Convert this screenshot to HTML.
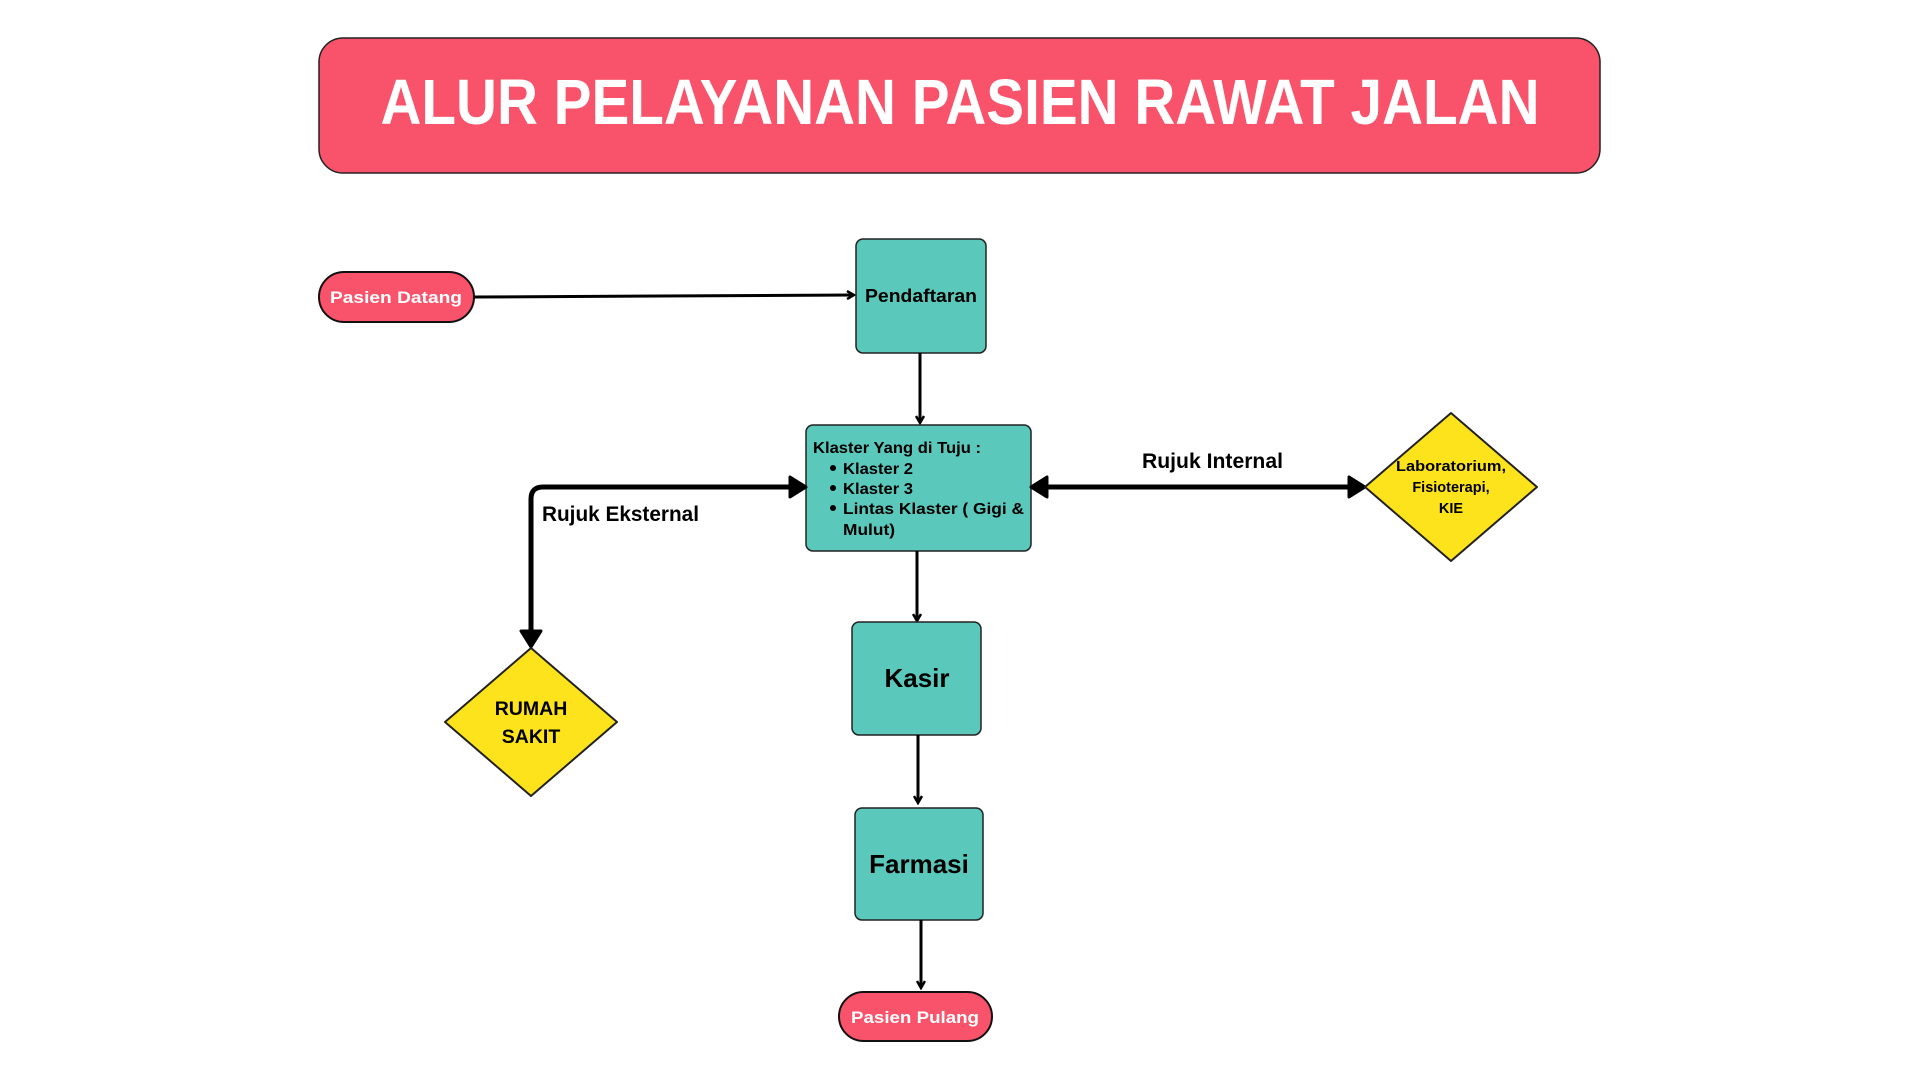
<!DOCTYPE html>
<html><head><meta charset="utf-8"><style>
html,body{margin:0;padding:0;background:#fff;}
svg{display:block;font-family:"Liberation Sans",sans-serif;font-weight:bold;}
</style></head><body>
<svg width="1920" height="1080" viewBox="0 0 1920 1080" xmlns="http://www.w3.org/2000/svg">
<defs>
<marker id="ah" markerWidth="10" markerHeight="10" refX="8" refY="5" orient="auto" markerUnits="userSpaceOnUse"><path d="M1,1 L8,5 L1,9" fill="none" stroke="#000" stroke-width="2.5"/></marker>
</defs>
<!-- title -->
<rect x="319" y="38" width="1281" height="135" rx="24" fill="#f9536b" stroke="#222" stroke-width="1.5"/>
<text x="960" y="124" text-anchor="middle" font-size="64" fill="#fff" textLength="1159" lengthAdjust="spacingAndGlyphs">ALUR PELAYANAN PASIEN RAWAT JALAN</text>

<!-- Pasien Datang -->
<rect x="319" y="272" width="155" height="50" rx="25" fill="#f9536b" stroke="#111" stroke-width="2"/>
<text x="396" y="303" text-anchor="middle" font-size="17" fill="#fff" textLength="132" lengthAdjust="spacingAndGlyphs">Pasien Datang</text>
<line x1="474" y1="297" x2="854" y2="295" stroke="#000" stroke-width="3" marker-end="url(#ah)"/>

<!-- Pendaftaran -->
<rect x="856" y="239" width="130" height="114" rx="7" fill="#5bc8bc" stroke="#222" stroke-width="1.5"/>
<text x="921" y="302" text-anchor="middle" font-size="18" fill="#000" textLength="112" lengthAdjust="spacingAndGlyphs">Pendaftaran</text>
<line x1="920" y1="353" x2="920" y2="423" stroke="#000" stroke-width="3" marker-end="url(#ah)"/>

<!-- Klaster -->
<rect x="806" y="425" width="225" height="126" rx="7" fill="#5bc8bc" stroke="#222" stroke-width="1.5"/>
<g font-size="16" fill="#000">
<text x="813" y="453" textLength="168" lengthAdjust="spacingAndGlyphs">Klaster Yang di Tuju :</text>
<circle cx="833" cy="468" r="3" fill="#000"/><text x="843" y="474" textLength="70" lengthAdjust="spacingAndGlyphs">Klaster 2</text>
<circle cx="833" cy="488" r="3" fill="#000"/><text x="843" y="494" textLength="70" lengthAdjust="spacingAndGlyphs">Klaster 3</text>
<circle cx="833" cy="508" r="3" fill="#000"/><text x="843" y="514" textLength="181" lengthAdjust="spacingAndGlyphs">Lintas Klaster ( Gigi &amp;</text>
<text x="843" y="535" textLength="52" lengthAdjust="spacingAndGlyphs">Mulut)</text>
</g>

<!-- Rujuk Internal -->
<line x1="1045" y1="487" x2="1350" y2="487" stroke="#000" stroke-width="5"/>
<path d="M1031,487 L1047,477 L1047,497 Z" fill="#000" stroke="#000" stroke-width="3" stroke-linejoin="round"/>
<path d="M1365,487 L1349,477 L1349,497 Z" fill="#000" stroke="#000" stroke-width="3" stroke-linejoin="round"/>
<text x="1142" y="468" font-size="21" fill="#000" font-weight="normal" style="font-weight:600" textLength="141" lengthAdjust="spacingAndGlyphs">Rujuk Internal</text>

<!-- Lab diamond -->
<path d="M1451,413 L1537,487 L1451,561 L1365,487 Z" fill="#fde31b" stroke="#222" stroke-width="2" stroke-linejoin="round"/>
<g font-size="14.5" fill="#000" text-anchor="middle">
<text x="1451" y="471" textLength="110" lengthAdjust="spacingAndGlyphs">Laboratorium,</text>
<text x="1451" y="492">Fisioterapi,</text>
<text x="1451" y="513">KIE</text>
</g>

<!-- Rujuk Eksternal -->
<path d="M792,487 L543,487 Q531,487 531,499 L531,632" fill="none" stroke="#000" stroke-width="5"/>
<path d="M806,487 L790,477 L790,497 Z" fill="#000" stroke="#000" stroke-width="3" stroke-linejoin="round"/>
<path d="M531,647 L521,631 L541,631 Z" fill="#000" stroke="#000" stroke-width="3" stroke-linejoin="round"/>
<text x="542" y="521" font-size="21" fill="#000" textLength="157" lengthAdjust="spacingAndGlyphs">Rujuk Eksternal</text>

<!-- Rumah Sakit diamond -->
<path d="M531,648 L617,722 L531,796 L445,722 Z" fill="#fde31b" stroke="#222" stroke-width="2" stroke-linejoin="round"/>
<g font-size="19.5" fill="#000" text-anchor="middle">
<text x="531" y="715">RUMAH</text>
<text x="531" y="743">SAKIT</text>
</g>

<!-- Klaster -> Kasir -->
<line x1="917" y1="551" x2="917" y2="621" stroke="#000" stroke-width="3" marker-end="url(#ah)"/>
<rect x="852" y="622" width="129" height="113" rx="7" fill="#5bc8bc" stroke="#222" stroke-width="1.5"/>
<text x="917" y="687" text-anchor="middle" font-size="26" fill="#000">Kasir</text>
<line x1="918" y1="735" x2="918" y2="803" stroke="#000" stroke-width="3" marker-end="url(#ah)"/>

<!-- Farmasi -->
<rect x="855" y="808" width="128" height="112" rx="7" fill="#5bc8bc" stroke="#222" stroke-width="1.5"/>
<text x="919" y="873" text-anchor="middle" font-size="26" fill="#000">Farmasi</text>
<line x1="921" y1="920" x2="921" y2="988" stroke="#000" stroke-width="3" marker-end="url(#ah)"/>

<!-- Pasien Pulang -->
<rect x="839" y="992" width="153" height="49" rx="24.5" fill="#f9536b" stroke="#111" stroke-width="2"/>
<text x="915" y="1023" text-anchor="middle" font-size="17" fill="#fff" textLength="128" lengthAdjust="spacingAndGlyphs">Pasien Pulang</text>
</svg>
</body></html>
